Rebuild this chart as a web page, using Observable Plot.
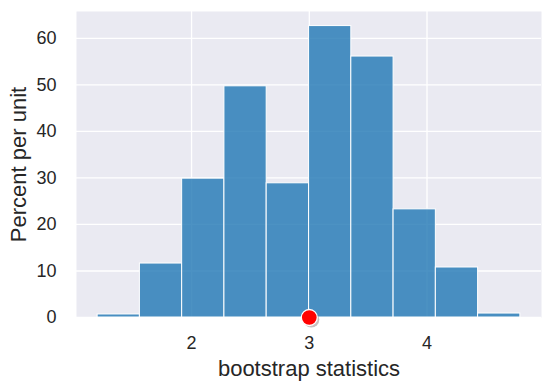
<!DOCTYPE html>
<html>
<head>
<meta charset="utf-8">
<script src="https://cdn.jsdelivr.net/npm/d3@7"></script>
<script src="https://cdn.jsdelivr.net/npm/@observablehq/plot@0.6"></script>
<style>
  html, body { margin: 0; padding: 0; background: #ffffff; }
  #chart svg { display: block; }
</style>
</head>
<body>
<div id="chart"></div>
<script>
// Bin edges of the histogram (bootstrap statistics)
const binEdges = [1.202, 1.561, 1.920, 2.279, 2.638, 2.998, 3.357, 3.716, 4.075, 4.434, 4.793];
// Height of each bin (percent per unit)
const percentPerUnit = [0.65, 11.6, 29.85, 49.7, 28.85, 62.65, 56.1, 23.25, 10.75, 0.85];
// Observed statistic (red dot)
const observed = [3.0];
// Tick values
const xTicks = [2, 3, 4];
const yTicks = [0, 10, 20, 30, 40, 50, 60];
const xLabel = "bootstrap statistics";
const yLabel = "Percent per unit";

const bins = percentPerUnit.map((v, i) => ({x1: binEdges[i], x2: binEdges[i + 1], y: v}));

const span = binEdges[binEdges.length - 1] - binEdges[0];
const xDomain = [binEdges[0] - 0.05 * span, binEdges[binEdges.length - 1] + 0.05 * span];
const yDomain = [0, d3.max(percentPerUnit) * 1.05];

const textColor = "#262626";
const font = "'Liberation Sans', Arial, 'DejaVu Sans', sans-serif";

const chart = Plot.plot({
  width: 549,
  height: 389,
  marginLeft: 76,
  marginRight: 8,
  marginTop: 11,
  marginBottom: 72,
  style: {fontFamily: font, color: textColor, background: "#ffffff", overflow: "visible"},
  x: {domain: xDomain},
  y: {domain: yDomain},
  marks: [
    Plot.frame({fill: "#eaeaf2", stroke: null}),
    Plot.gridX(xTicks, {stroke: "#ffffff", strokeOpacity: 1, strokeWidth: 1.3}),
    Plot.gridY(yTicks, {stroke: "#ffffff", strokeOpacity: 1, strokeWidth: 1.3}),
    Plot.rectY(bins, {x1: "x1", x2: "x2", y: "y", fill: "#1f77b4", fillOpacity: 0.8, stroke: "#ffffff", strokeWidth: 1, inset: 0}),
    Plot.axisX({ticks: xTicks, tickSize: 0, tickPadding: 19, fontSize: 18, label: null, tickFormat: d3.format("d")}),
    Plot.axisY({ticks: yTicks, tickSize: 0, tickPadding: 20, fontSize: 18, label: null, tickFormat: d3.format("d")}),
    Plot.text([xLabel], {frameAnchor: "bottom", text: d => d, textAnchor: "middle", lineAnchor: "bottom", dy: 58, fontSize: 22, fill: textColor}),
    Plot.text([yLabel], {frameAnchor: "left", text: d => d, rotate: -90, textAnchor: "middle", lineAnchor: "bottom", dx: -51, fontSize: 22, fill: textColor}),
    Plot.dot(observed, {x: d => d, y: () => 0, r: 8, fill: "#9a8a8a", fillOpacity: 0.55, stroke: null, dx: 2, dy: 2}),
    Plot.dot(observed, {x: d => d, y: () => 0, r: 8, fill: "#ff0000", stroke: "#ffffff", strokeWidth: 1.3})
  ]
});

document.getElementById("chart").appendChild(chart);
</script>
</body>
</html>
